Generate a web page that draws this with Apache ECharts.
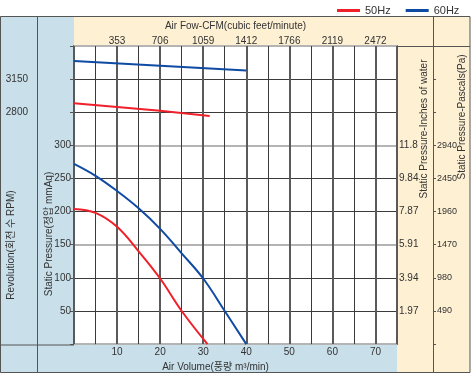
<!DOCTYPE html>
<html>
<head>
<meta charset="utf-8">
<script src="https://cdn.jsdelivr.net/npm/echarts@6/dist/echarts.min.js"></script>
<style>
  html, body { margin: 0; padding: 0; background: #fff; }
  #chart { width: 471px; height: 377px; }
</style>
</head>
<body>
<div id="chart"></div>
<script>
// data
var flow50 = [0, 5, 10, 15, 20, 25, 31];
var press50 = [204, 198, 177, 140, 99, 50, 0];
var flow60 = [0, 5, 10, 15, 20, 25, 30, 35, 40];
var press60 = [272, 254, 231, 205, 174, 137, 99, 50, 0];

// revolution lines (RPM)
var rpmFlow50 = [0, 20, 31.5];
var rpm50 = [2896, 2815, 2760];
var rpmFlow60 = [0, 20, 40];
var rpm60 = [3342, 3292, 3240];

// tick labels
var cfmLabels = ['353', '706', '1059', '1412', '1766', '2119', '2472'];
var inchLabels = ['1.97', '3.94', '5.91', '7.87', '9.84', '11.8'];
var paLabels = ['490', '980', '1470', '1960', '2450', '2940'];
var rpmLabels = [2800, 3150];

var red = '#f0202a';
var blue = '#0f4ba3';
var paleBlue = '#c9dfea';
var cream = '#fdf0d3';
var frame = '#555';
var font = 'Liberation Sans, Arial, Noto Sans CJK KR, sans-serif';

function zip(a, b) {
  var out = [];
  for (var i = 0; i < a.length; i++) out.push([a[i], b[i]]);
  return out;
}

// label 50..300 -> index 0..5
function pressIndex(v) {
  if (v <= 0 || v > 300 || v % 50 !== 0) return -1;
  return v / 50 - 1;
}

function vText(txt, x, y) {
  return {
    type: 'text', x: x, y: y, rotation: Math.PI / 2, z: 20,
    style: { text: txt, x: 0, y: 0, fill: '#333', font: '10px ' + font,
             textAlign: 'center', textVerticalAlign: 'middle' }
  };
}
function hLine(x1, x2, y) {
  return { type: 'line', z: 20, shape: { x1: x1, y1: y, x2: x2, y2: y },
           style: { stroke: frame, lineWidth: 1 } };
}
function vLine(x, y1, y2) {
  return { type: 'line', z: 20, shape: { x1: x, y1: y1, x2: x, y2: y2 },
           style: { stroke: frame, lineWidth: 1 } };
}

var option = {
  animation: false,
  backgroundColor: '#fff',
  textStyle: { fontFamily: font },
  legend: {
    data: ['50Hz', '60Hz'],
    left: 332, top: 0,
    icon: 'rect', itemWidth: 23, itemHeight: 3, itemGap: 15,
    textStyle: { fontSize: 11, color: '#333', fontFamily: font }
  },
  grid: {
    left: 74, right: 74, top: 46, bottom: 32,
    show: true, backgroundColor: '#fff',
    borderColor: '#222', borderWidth: 1.5
  },
  xAxis: [
    {
      type: 'value', position: 'bottom', min: 0, max: 75, interval: 5,
      axisLine: { show: false }, axisTick: { show: false },
      axisLabel: {
        margin: 3, fontSize: 10, color: '#333',
        formatter: function (v) { return (v > 0 && v % 10 === 0 && v < 75) ? v : ''; }
      },
      splitLine: { lineStyle: { color: ['rgba(0,0,0,0)', '#3a3a3a'], width: 1 } },
      name: 'Air Volume(풍량 m³/min)', nameLocation: 'middle', nameGap: 13,
      nameTextStyle: { fontSize: 10, color: '#333', padding: [0, 40, 0, 0] }
    },
    {
      type: 'value', position: 'top', min: 0, max: 75, interval: 10,
      axisLine: { show: false }, axisTick: { show: false },
      axisLabel: {
        margin: 0, fontSize: 10, color: '#333',
        formatter: function (v) {
          var i = v / 10 - 1;
          return (i >= 0 && i < cfmLabels.length && v % 10 === 0) ? cfmLabels[i] : '';
        }
      },
      splitLine: { lineStyle: { color: '#5a5a5a', width: 2 } },
      name: 'Air Fow-CFM(cubic feet/minute)', nameLocation: 'middle', nameGap: 14,
      nameTextStyle: { fontSize: 10, color: '#333' }
    }
  ],
  yAxis: [
    {
      // static pressure mmAq
      type: 'value', position: 'left', min: 0, max: 450, interval: 50,
      axisLine: { show: false },
      axisTick: { show: true, length: 2, lineStyle: { color: '#333' } },
      axisLabel: {
        margin: 3, fontSize: 10, color: '#333',
        formatter: function (v) { return pressIndex(v) >= 0 ? v : ''; }
      },
      splitLine: { lineStyle: { color: ['rgba(0,0,0,0)', '#3a3a3a', '#3a3a3a'], width: 1 } }
    },
    {
      // revolution RPM
      type: 'value', position: 'left', offset: 37, min: 350, max: 3500, interval: 350,
      axisLine: { show: false },
      axisTick: { show: true, length: 4, lineStyle: { color: '#555' } },
      axisLabel: {
        margin: 9, fontSize: 10, color: '#333',
        formatter: function (v) { return rpmLabels.indexOf(v) >= 0 ? v : ''; }
      },
      splitLine: { show: true, lineStyle: { color: ['#b4b4b4', 'rgba(0,0,0,0)', 'rgba(0,0,0,0)'], width: 2 } }
    },
    {
      // inches of water
      type: 'value', position: 'right', min: 0, max: 450, interval: 50,
      axisLine: { show: false }, axisTick: { show: false },
      axisLabel: {
        margin: 2, fontSize: 10, color: '#333',
        formatter: function (v) { var i = pressIndex(v); return i >= 0 ? inchLabels[i] : ''; }
      },
      splitLine: { show: false }
    },
    {
      // pascals
      type: 'value', position: 'right', offset: 36, min: 0, max: 450, interval: 50,
      axisLine: { show: false },
      axisTick: { show: true, length: 3, lineStyle: { color: '#555' } },
      axisLabel: {
        margin: 4, fontSize: 9, color: '#333',
        formatter: function (v) { var i = pressIndex(v); return i >= 0 ? paLabels[i] : ''; }
      },
      splitLine: { show: false }
    }
  ],
  series: [
    {
      name: '50Hz', type: 'line', xAxisIndex: 0, yAxisIndex: 0,
      data: zip(flow50, press50), smooth: 0.4, showSymbol: false,
      itemStyle: { color: red }, lineStyle: { color: red, width: 2 }
    },
    {
      name: '60Hz', type: 'line', xAxisIndex: 0, yAxisIndex: 0,
      data: zip(flow60, press60), smooth: 0.4, showSymbol: false,
      itemStyle: { color: blue }, lineStyle: { color: blue, width: 2 }
    },
    {
      name: '50Hz', type: 'line', xAxisIndex: 0, yAxisIndex: 1,
      data: zip(rpmFlow50, rpm50), showSymbol: false,
      itemStyle: { color: red }, lineStyle: { color: red, width: 2 }
    },
    {
      name: '60Hz', type: 'line', xAxisIndex: 0, yAxisIndex: 1,
      data: zip(rpmFlow60, rpm60), showSymbol: false,
      itemStyle: { color: blue }, lineStyle: { color: blue, width: 2 }
    }
  ],
  graphic: [
    // panels
    { type: 'rect', z: -10, shape: { x: 0, y: 16, width: 470, height: 357 }, style: { fill: cream } },
    { type: 'rect', z: -9, shape: { x: 0, y: 16, width: 74, height: 357 }, style: { fill: paleBlue } },
    { type: 'rect', z: -9, shape: { x: 0, y: 345, width: 397, height: 28 }, style: { fill: paleBlue } },
    // dividers
    vLine(37.5, 16, 373),
    vLine(433.5, 16, 373),
    hLine(397, 470, 46.5),
    hLine(0, 74, 345),
    { type: 'rect', z: 20, shape: { x: 0.5, y: 16.5, width: 469.5, height: 356 },
      style: { fill: 'none', stroke: frame, lineWidth: 1 } },
    // axis titles
    vText('Revolution(회전 수 RPM)', 11, 245),
    vText('Static Pressure(정압 mmAq)', 49, 234),
    vText('Static Pressure-Inches of water', 424, 129),
    vText('Static Pressure-Pascals(Pa)', 462, 117)
  ]
};

var chart = echarts.init(document.getElementById('chart'));
chart.setOption(option);
</script>
</body>
</html>
